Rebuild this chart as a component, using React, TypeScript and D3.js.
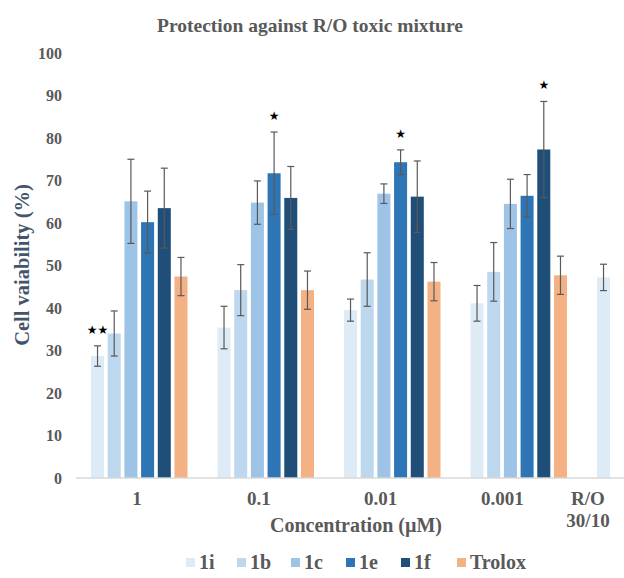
import React, { useEffect, useRef } from 'react';
import * as d3 from 'd3';

const categories = ['1', '0.1', '0.01', '0.001', 'R/O 30/10'];
const series = ['1i', '1b', '1c', '1e', '1f', 'Trolox'];
const colors = ['#DDEBF7', '#BDD7EE', '#9DC3E6', '#2E75B6', '#1F4E79', '#F4B183'];

// values per series, one per category, null = no bar
const values1i = [28.7, 35.4, 39.5, 41.1, 47.2];
const values1b = [34.0, 44.2, 46.7, 48.5, null];
const values1c = [65.1, 64.8, 66.9, 64.5, null];
const values1e = [60.2, 71.7, 74.3, 66.4, null];
const values1f = [63.5, 65.9, 66.2, 77.3, null];
const valuesTrolox = [47.4, 44.2, 46.2, 47.7, null];

const err1i = [2.4, 5.0, 2.6, 4.2, 3.1];
const err1b = [5.3, 6.0, 6.3, 6.9, null];
const err1c = [9.9, 5.1, 2.3, 5.8, null];
const err1e = [7.3, 9.7, 2.9, 5.0, null];
const err1f = [9.4, 7.4, 8.4, 11.3, null];
const errTrolox = [4.5, 4.5, 4.5, 4.5, null];

// significance marks: [category, series, mark]
const stars = [
  ['1', '1i', '★★'],
  ['0.1', '1e', '★'],
  ['0.01', '1e', '★'],
  ['0.001', '1f', '★'],
];

const yTicks = [0, 10, 20, 30, 40, 50, 60, 70, 80, 90, 100];

export default function App() {
  const ref = useRef<SVGSVGElement>(null);

  useEffect(() => {
    const W = 624;
    const svg = d3.select(ref.current);
    svg.selectAll('*').remove();

    const font = '"Liberation Serif", "Times New Roman", serif';
    const textGray = '#595959';

    const allValues = [values1i, values1b, values1c, values1e, values1f, valuesTrolox];
    const allErrors = [err1i, err1b, err1c, err1e, err1f, errTrolox];

    const data: { cat: string; s: string; v: number; e: number; color: string }[] = [];
    categories.forEach((c, ci) => {
      series.forEach((s, si) => {
        const v = allValues[si][ci];
        if (v != null) data.push({ cat: c, s, v, e: allErrors[si][ci] as number, color: colors[si] });
      });
    });

    const x0 = d3.scaleBand().domain(categories).range([76, 76 + 126.5 * categories.length]);
    const x1 = d3.scaleBand().domain(series).range([0, x0.bandwidth()]).paddingInner(0.22).paddingOuter(0.9);
    const y = d3.scaleLinear().domain([0, 100]).range([478, 53]);

    // title
    svg.append('text')
      .attr('x', 310).attr('y', 32)
      .attr('text-anchor', 'middle')
      .attr('font-family', font).attr('font-weight', 'bold').attr('font-size', 19.5)
      .attr('fill', textGray)
      .text('Protection against R/O toxic mixture');

    // y tick labels
    svg.append('g').selectAll('text')
      .data(yTicks).enter().append('text')
      .attr('x', 62).attr('y', d => y(d)).attr('dy', '0.35em')
      .attr('text-anchor', 'end')
      .attr('font-family', font).attr('font-weight', 'bold').attr('font-size', 16)
      .attr('fill', textGray)
      .text(d => d);

    // y label
    svg.append('text')
      .attr('transform', `translate(29, 265) rotate(-90)`)
      .attr('text-anchor', 'middle')
      .attr('font-family', font).attr('font-weight', 'bold').attr('font-size', 20.5)
      .attr('fill', '#44546A')
      .text('Cell vaiability (%)');

    // bars
    svg.append('g').selectAll('rect')
      .data(data).enter().append('rect')
      .attr('x', d => (x0(d.cat) as number) + (x1(d.s) as number))
      .attr('y', d => y(d.v))
      .attr('width', x1.bandwidth())
      .attr('height', d => y(0) - y(d.v))
      .attr('fill', d => d.color);

    // error bars
    const eg = svg.append('g').attr('stroke', '#595959').attr('stroke-width', 1.2);
    data.forEach(d => {
      const cx = (x0(d.cat) as number) + (x1(d.s) as number) + x1.bandwidth() / 2;
      eg.append('line').attr('x1', cx).attr('x2', cx).attr('y1', y(d.v + d.e)).attr('y2', y(d.v - d.e));
      eg.append('line').attr('x1', cx - 3.5).attr('x2', cx + 3.5).attr('y1', y(d.v + d.e)).attr('y2', y(d.v + d.e));
      eg.append('line').attr('x1', cx - 3.5).attr('x2', cx + 3.5).attr('y1', y(d.v - d.e)).attr('y2', y(d.v - d.e));
    });

    // stars
    svg.append('g').selectAll('text')
      .data(stars).enter().append('text')
      .attr('x', d => (x0(d[0]) as number) + (x1(d[1]) as number) + x1.bandwidth() / 2)
      .attr('y', d => {
        const si = series.indexOf(d[1]);
        const ci = categories.indexOf(d[0]);
        return y((allValues[si][ci] as number) + (allErrors[si][ci] as number)) - 12;
      })
      .attr('text-anchor', 'middle')
      .attr('font-family', '"DejaVu Sans", sans-serif').attr('font-size', 12)
      .attr('fill', '#000')
      .text(d => d[2]);

    // baseline
    svg.append('line')
      .attr('x1', 76).attr('x2', W)
      .attr('y1', y(0)).attr('y2', y(0))
      .attr('stroke', '#D9D9D9').attr('stroke-width', 1.5);

    // category labels
    const xl = d3.scalePoint().domain(categories).range([137, 624]);
    const lg = svg.append('g')
      .attr('font-family', font).attr('font-weight', 'bold').attr('font-size', 19)
      .attr('fill', textGray).attr('text-anchor', 'middle');
    categories.forEach(c => {
      const lx = Math.min(xl(c) as number, 588);
      c.split(' ').forEach((t, i) => {
        lg.append('text').attr('x', lx).attr('y', 505 + i * 22).text(t);
      });
    });

    // x label
    svg.append('text')
      .attr('x', 356).attr('y', 532)
      .attr('text-anchor', 'middle')
      .attr('font-family', font).attr('font-weight', 'bold').attr('font-size', 20)
      .attr('fill', textGray)
      .text('Concentration (µM)');

    // legend
    const legendX = [186, 237, 291, 346, 401, 457];
    const leg = svg.append('g');
    series.forEach((s, i) => {
      leg.append('rect')
        .attr('x', legendX[i]).attr('y', 558).attr('width', 9).attr('height', 9)
        .attr('fill', colors[i]);
      leg.append('text')
        .attr('x', legendX[i] + 13).attr('y', 569)
        .attr('font-family', font).attr('font-weight', 'bold').attr('font-size', 20)
        .attr('fill', textGray)
        .text(s);
    });
  }, []);

  return (
    <svg ref={ref} width={624} height={578}
      style={{ position: 'absolute', left: 0, top: 0, background: '#fff' }} />
  );
}
